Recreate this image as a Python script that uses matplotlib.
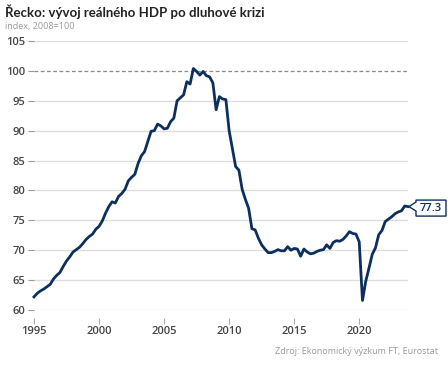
import matplotlib
matplotlib.use("Agg")
import matplotlib.pyplot as plt
from matplotlib.patches import Polygon
import matplotlib.transforms as mtrans
import numpy as np

start_year = 1995
values = [
    62.2, 62.8, 63.2, 63.5, 63.9, 64.3, 65.2, 65.8, 66.3, 67.3,
    68.2, 68.9, 69.7, 70.1, 70.5, 71.1, 71.8, 72.3, 72.7, 73.5,
    74.0, 74.9, 76.2, 77.3, 78.1, 77.9, 79.0, 79.5, 80.2, 81.6,
    82.2, 82.7, 84.5, 85.8, 86.5, 88.2, 89.9, 90.0, 91.1, 90.8,
    90.3, 90.4, 91.5, 92.1, 95.0, 95.5, 96.0, 98.2, 97.8, 100.4,
    99.9, 99.3, 99.9, 99.2, 99.0, 98.0, 93.5, 95.7, 95.3, 95.2,
    90.0, 87.0, 84.0, 83.4, 80.2, 78.5, 77.0, 73.6, 73.4, 72.0,
    70.9, 70.2, 69.6, 69.6, 69.8, 70.1, 69.9, 69.9, 70.6, 70.0,
    70.3, 70.2, 69.0, 70.2, 69.7, 69.4, 69.5, 69.8, 70.0, 70.1,
    70.9, 70.3, 71.3, 71.6, 71.5, 71.8, 72.4, 73.1, 72.8, 72.7,
    71.4, 61.6, 64.8, 67.0, 69.3, 70.4, 72.6, 73.3, 74.8, 75.2,
    75.6, 76.1, 76.4, 76.6, 77.4, 77.3,
]
x_ticks = [1995, 2000, 2005, 2010, 2015, 2020]
y_ticks = [60, 65, 70, 75, 80, 85, 90, 95, 100, 105]
last_label = "77.3"

title = "Řecko: vývoj reálného HDP po dluhové krizi"
subtitle = "index, 2008=100"
source = "Zdroj: Ekonomický výzkum FT, Eurostat"

plt.rcParams['font.family'] = ['Open Sans', 'DejaVu Sans']

t = start_year + np.arange(len(values)) * 0.25

W, H = 448, 366
fig = plt.figure(figsize=(W / 100, H / 100), dpi=100)
ax = fig.add_axes([34 / W, 1 - 310 / H, (408 - 34) / W, (310 - 41) / H])

navy = "#0c2f5c"
ax.set_xlim(t[0], t[-1])
ax.set_ylim(60, 105)
ax.set_yticks(y_ticks)
ax.set_xticks(x_ticks)
ax.set_yticklabels([str(v) for v in y_ticks], fontsize=8, color="#444444", fontweight="semibold")
ax.set_xticklabels([str(v) for v in x_ticks], fontsize=8, color="#444444", fontweight="semibold")
for s in ax.spines.values():
    s.set_visible(False)
ax.tick_params(axis="y", length=4, width=0.8, color="#999999", pad=2)
ax.tick_params(axis="x", length=4, width=0.8, color="#aaaaaa", pad=3, direction="out")

for v in y_ticks:
    if v == 100:
        ax.axhline(v, color="#888888", lw=0.9, ls=(0, (3, 2)), zorder=1)
    else:
        ax.axhline(v, color="#dddddd", lw=1.0, zorder=1)

ax.plot(t, values, color=navy, lw=2.0, solid_joinstyle="round", zorder=3, clip_on=False)

for tk in ax.xaxis.get_major_ticks():
    tk.tick1line.set_transform(tk.tick1line.get_transform() + mtrans.Affine2D().translate(0, -8))
    tk.label1.set_transform(tk.label1.get_transform() + mtrans.Affine2D().translate(0, -6))

# callout label for last value
fig.canvas.draw()
px, py = ax.transData.transform((t[-1], values[-1]))
x0 = px + 1
y0 = py
poly = Polygon(
    [(x0, y0), (x0 + 7, y0 + 4.5), (x0 + 7, y0 + 6.5), (x0 + 37, y0 + 6.5),
     (x0 + 37, y0 - 9.5), (x0 + 7, y0 - 9.5), (x0 + 7, y0 - 4.5)],
    closed=True, transform=None, facecolor="white", edgecolor=navy, lw=1.0,
    zorder=5, clip_on=False)
fig.add_artist(poly)
fig.text((x0 + 22) / W, (y0 - 1.5) / H, last_label, ha="center", va="center",
         fontsize=8, fontweight="semibold", color=navy, zorder=6)

fig.text(5 / W, 1 - 12 / H, title, ha="left", va="center", fontsize=9.5,
         fontweight="bold", color="#222222", family=['Lato', 'DejaVu Sans'])
fig.text(5 / W, 1 - 27 / H, subtitle, ha="left", va="center", fontsize=6.5,
         color="#999999")
fig.text(438 / W, 1 - 352 / H, source, ha="right", va="center", fontsize=6.5,
         color="#999999")

fig.savefig("out.png", dpi=100)
